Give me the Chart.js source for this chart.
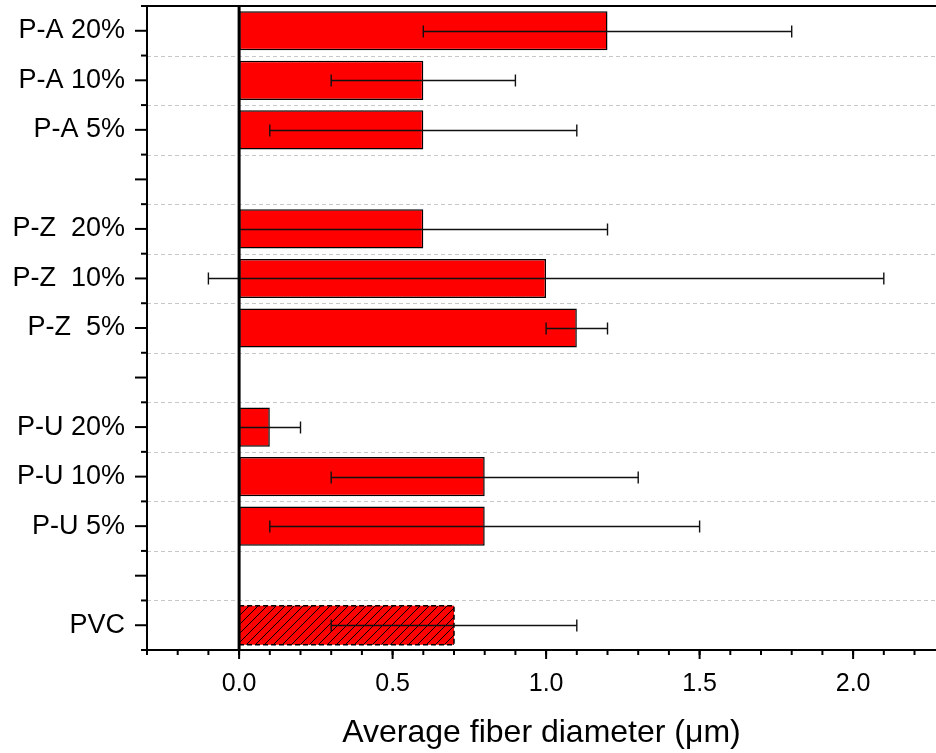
<!DOCTYPE html>
<html>
<head>
<meta charset="utf-8">
<script src="https://cdn.jsdelivr.net/npm/chart.js@4.4.1/dist/chart.umd.min.js"></script>
<style>
  html, body { margin: 0; padding: 0; background: #fff; }
</style>
</head>
<body>
<canvas id="chart" width="936" height="753"></canvas>
<script>
// Data
var categories = ['P-A 20%', 'P-A 10%', 'P-A 5%', '', 'P-Z  20%', 'P-Z  10%', 'P-Z  5%', '', 'P-U 20%', 'P-U 10%', 'P-U 5%', '', 'PVC'];
var diameters = [1.2, 0.6, 0.6, null, 0.6, 1.0, 1.1, null, 0.1, 0.8, 0.8, null, 0.7];
var errors = [0.6, 0.3, 0.5, null, 0.6, 1.1, 0.1, null, 0.1, 0.5, 0.7, null, 0.4];
var xTickValues = [0.0, 0.5, 1.0, 1.5, 2.0];
var xMin = -0.3, xMax = 2.27, xMinorStep = 0.1;
var xTitle = 'Average fiber diameter (μm)';

var FONT = "'Liberation Sans', Arial, sans-serif";

// hatched fill for the PVC bar
var makeHatch = function () {
  var c = document.createElement('canvas');
  c.width = 9; c.height = 9;
  var g = c.getContext('2d');
  g.fillStyle = '#ff0000';
  g.fillRect(0, 0, 9, 9);
  g.strokeStyle = '#000';
  g.lineWidth = 1;
  g.beginPath();
  g.moveTo(0, 9); g.lineTo(9, 0);
  g.moveTo(-1, 1); g.lineTo(1, -1);
  g.moveTo(8, 10); g.lineTo(10, 8);
  g.stroke();
  return g.createPattern(c, 'repeat');
};

var isHatched = function (i) { return categories[i] === 'PVC'; };

var line = function (ctx, x1, y1, x2, y2) {
  ctx.beginPath();
  ctx.moveTo(x1, y1);
  ctx.lineTo(x2, y2);
  ctx.stroke();
};

var framePlugin = {
  id: 'frame',
  beforeDatasetsDraw: function (chart) {
    var ctx = chart.ctx, a = chart.chartArea, ys = chart.scales.y;
    ctx.save();
    ctx.strokeStyle = '#c8c8c8';
    ctx.lineWidth = 1;
    ctx.setLineDash([4, 3]);
    for (var i = 1; i < categories.length; i++) {
      var py = Math.round((ys.getPixelForTick(i - 1) + ys.getPixelForTick(i)) / 2) + 0.5;
      line(ctx, a.left, py, a.right, py);
    }
    ctx.restore();
  },
  afterDatasetsDraw: function (chart) {
    var ctx = chart.ctx, a = chart.chartArea, xs = chart.scales.x, ys = chart.scales.y;
    var meta = chart.getDatasetMeta(0);
    ctx.save();

    // dashed outline of the hatched bar
    meta.data.forEach(function (bar, i) {
      if (!isHatched(i) || diameters[i] === null) return;
      var p = bar.getProps(['x', 'y', 'base', 'height'], true);
      ctx.strokeStyle = '#000';
      ctx.lineWidth = 1.5;
      ctx.setLineDash([5, 3]);
      ctx.strokeRect(p.base, p.y - p.height / 2, p.x - p.base, p.height);
      ctx.setLineDash([]);
    });

    // error bars
    ctx.strokeStyle = '#111';
    ctx.lineWidth = 1.4;
    meta.data.forEach(function (bar, i) {
      if (diameters[i] === null) return;
      var py = Math.round(bar.y) + 0.5;
      var x1 = xs.getPixelForValue(diameters[i] - errors[i]);
      var x2 = xs.getPixelForValue(diameters[i] + errors[i]);
      line(ctx, x1, py, x2, py);
      line(ctx, x1, py - 6, x1, py + 6);
      line(ctx, x2, py - 6, x2, py + 6);
    });

    // zero line
    ctx.strokeStyle = '#000';
    ctx.lineWidth = 3;
    var zx = xs.getPixelForValue(0);
    line(ctx, zx, a.top, zx, a.bottom);

    // axes frame
    ctx.lineWidth = 2;
    line(ctx, a.left, a.top, a.right, a.top);
    line(ctx, a.left, a.top - 1, a.left, a.bottom + 1);
    line(ctx, a.left - 1, a.bottom, a.right, a.bottom);

    // y ticks: major at categories, minor at boundaries
    var half = (ys.getPixelForTick(1) - ys.getPixelForTick(0)) / 2;
    for (var i = 0; i < categories.length; i++) {
      var cy = ys.getPixelForTick(i);
      line(ctx, a.left - 12, cy, a.left, cy);
      line(ctx, a.left - 6, cy - half, a.left, cy - half);
      if (i === categories.length - 1) line(ctx, a.left - 6, cy + half, a.left, cy + half);
    }

    // x ticks: minor every 0.1, major at labelled values
    for (var v = xMin; v <= xMax + 1e-9; v += xMinorStep) {
      var vx = xs.getPixelForValue(v);
      line(ctx, vx, a.bottom, vx, a.bottom + 5);
    }
    xTickValues.forEach(function (t) {
      var tx = xs.getPixelForValue(t);
      line(ctx, tx, a.bottom, tx, a.bottom + 9);
    });

    ctx.restore();
  }
};

var ctx = document.getElementById('chart').getContext('2d');
var hatch = makeHatch();

new Chart(ctx, {
  type: 'bar',
  data: {
    labels: categories,
    datasets: [{
      data: diameters,
      backgroundColor: categories.map(function (c, i) { return isHatched(i) ? hatch : '#ff0000'; }),
      borderColor: '#000',
      borderWidth: categories.map(function (c, i) { return isHatched(i) ? 0 : 1.5; }),
      borderSkipped: false,
      barPercentage: 0.79,
      categoryPercentage: 1.0
    }]
  },
  options: {
    indexAxis: 'y',
    responsive: false,
    animation: false,
    layout: { padding: { top: 6, left: 0, right: 0, bottom: 0 } },
    plugins: { legend: { display: false }, tooltip: { enabled: false } },
    scales: {
      y: {
        grid: { display: false, drawTicks: false },
        border: { display: false },
        ticks: { color: '#000', font: { family: FONT, size: 27 }, padding: 22, autoSkip: false },
        afterFit: function (s) { s.width = 147; s.paddingTop = 0; s.paddingBottom = 0; }
      },
      x: {
        type: 'linear',
        min: xMin,
        max: xMax,
        grid: { display: false, drawTicks: false },
        border: { display: false },
        afterBuildTicks: function (s) { s.ticks = xTickValues.map(function (v) { return { value: v }; }); },
        ticks: {
          color: '#000',
          font: { family: FONT, size: 25 },
          padding: 19,
          maxRotation: 0,
          callback: function (v) { return Number(v).toFixed(1); }
        },
        title: {
          display: true,
          text: xTitle,
          color: '#000',
          font: { family: FONT, size: 32, lineHeight: 1 },
          padding: { top: 0, bottom: 4 }
        },
        afterFit: function (s) { s.height = 103; s.paddingLeft = 0; s.paddingRight = 0; }
      }
    }
  },
  plugins: [framePlugin]
});
</script>
</body>
</html>
